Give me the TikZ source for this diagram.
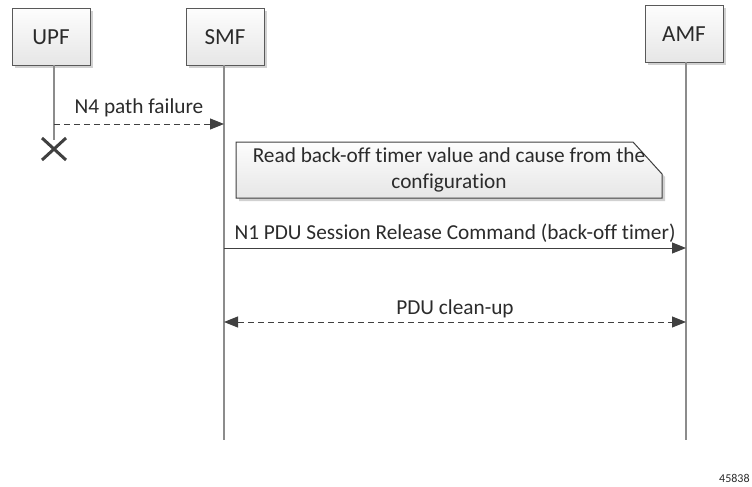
\documentclass[tikz,border=0pt]{standalone}
\usepackage{fontspec}
\setmainfont{Carlito}[Ligatures=NoCommon]
\usetikzlibrary{arrows.meta,shadows}
\definecolor{boxtop}{HTML}{FDFDFD}
\definecolor{boxbot}{HTML}{E6E6E6}
\definecolor{rim}{HTML}{595959}
\definecolor{life}{HTML}{8C8C8C}
\definecolor{msg}{HTML}{404040}
\definecolor{ink}{HTML}{2B2B2B}
\tikzset{
  entity/.style={draw=rim,line width=1pt,top color=boxtop,bottom color=boxbot,
    minimum width=78pt,minimum height=57pt,font=\fontsize{23}{26}\selectfont,text=ink,
    drop shadow={shadow xshift=3pt,shadow yshift=-3pt,fill=black,opacity=0.18}},
  lifeline/.style={draw=life,line width=2pt},
  message/.style={draw=msg,line width=1pt,-{Triangle[length=14pt,width=11pt]}},
  label/.style={font=\fontsize{21.3}{25.5}\selectfont,text=ink}
}
\begin{document}
\begin{tikzpicture}[x=1pt,y=-1pt]
 \useasboundingbox (0,0) rectangle (752,487);
 % entities
 \node [entity] (upf) at (51,37) {UPF};
 \node [entity] (smf) at (225,37) {SMF};
 \node [entity] (amf) at (684,34) {AMF};
 \coordinate (upfend) at (54,140);
 \coordinate (smfend) at (224,440);
 \coordinate (amfend) at (686,440);
 \draw [lifeline] (54,65) -- (upfend);
 \draw [lifeline] (224,65) -- (smfend);
 \draw [lifeline] (686,62) -- (amfend);
 % destroyed UPF
 \draw [draw=msg,line width=3pt] (42,138) -- (66,160) (66,138) -- (42,160);
 % N4 path failure
 \coordinate (n4a) at (54,124);
 \coordinate (n4b) at (224,124);
 \draw [message,dashed,dash pattern=on 6pt off 4pt] (n4a) -- node [label,above=3pt] (n4txt) {N4 path failure} (n4b);
 % note
 \draw [draw=msg,line width=1pt,top color=boxtop,bottom color=boxbot,
   drop shadow={shadow xshift=3pt,shadow yshift=-3pt,fill=black,opacity=0.18}]
   (236,142) -- (633,142) -- (662,174) -- (662,198) -- (236,198) -- cycle;
 \node [label,align=center] (note) at (449,170) {Read back-off timer value and cause from the\\configuration};
 % N1 release command
 \coordinate (n1a) at (224,248);
 \coordinate (n1b) at (686,248);
 \draw [message] (n1a) -- node [label,above=2pt] (n1txt) {N1 PDU Session Release Command (back-off timer)} (n1b);
 % PDU clean-up
 \coordinate (cla) at (224,322);
 \coordinate (clb) at (686,322);
 \draw [message,{Triangle[length=14pt,width=11pt]}-{Triangle[length=14pt,width=11pt]},dashed,dash pattern=on 6pt off 4pt] (cla) -- node [label,above=0pt] (cltxt) {PDU clean-up} (clb);
 \node [font=\fontsize{12}{13}\selectfont,text=ink,anchor=west,inner sep=0pt] (fig) at (719,478) {45838};
\end{tikzpicture}
\end{document}
